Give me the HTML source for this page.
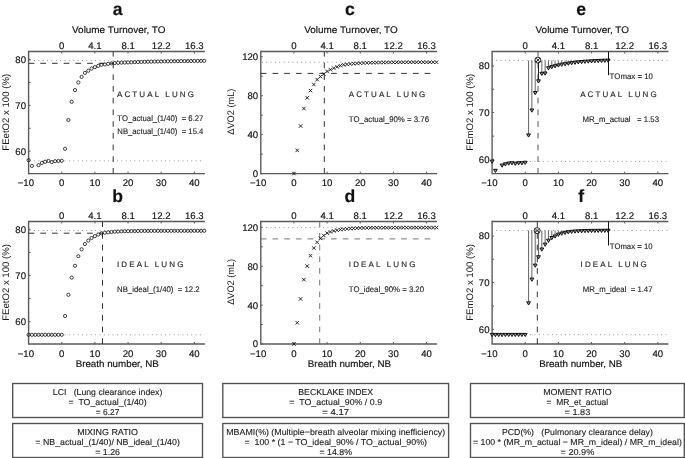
<!DOCTYPE html>
<html><head><meta charset="utf-8"><style>
html,body{margin:0;padding:0;background:#fff;width:685px;height:458px;overflow:hidden}
svg{display:block;will-change:transform}
text{font-family:"Liberation Sans", sans-serif;stroke:#111;stroke-width:0.16px;text-rendering:geometricPrecision}
text.s{stroke-width:0.12px;fill:#222;stroke:#222}
text.yl{stroke-width:0.02px;fill:#1a1a1a;stroke:#1a1a1a}
</style></head><body>
<svg width="685" height="458" viewBox="0 0 685 458" font-family='"Liberation Sans", sans-serif' fill="#111">
<rect width="685" height="458" fill="#fff"/>
<line x1="28.6" y1="51.5" x2="204.89" y2="51.5" stroke="#5a5a5a" stroke-width="1.4"/>
<line x1="28.6" y1="50.8" x2="28.6" y2="174.35" stroke="#5a5a5a" stroke-width="1.4"/>
<line x1="28.6" y1="173.65" x2="204.89" y2="173.65" stroke="#5a5a5a" stroke-width="1.4"/>
<line x1="61.75" y1="51.5" x2="61.75" y2="53.5" stroke="#5a5a5a" stroke-width="1"/>
<text x="61.75" y="48.6" font-size="9.6" text-anchor="middle">0</text>
<line x1="94.9" y1="51.5" x2="94.9" y2="53.5" stroke="#5a5a5a" stroke-width="1"/>
<text x="94.9" y="48.6" font-size="9.6" text-anchor="middle">4.1</text>
<line x1="128.05" y1="51.5" x2="128.05" y2="53.5" stroke="#5a5a5a" stroke-width="1"/>
<text x="128.05" y="48.6" font-size="9.6" text-anchor="middle">8.1</text>
<line x1="161.2" y1="51.5" x2="161.2" y2="53.5" stroke="#5a5a5a" stroke-width="1"/>
<text x="161.2" y="48.6" font-size="9.6" text-anchor="middle">12.2</text>
<line x1="194.35" y1="51.5" x2="194.35" y2="53.5" stroke="#5a5a5a" stroke-width="1"/>
<text x="194.35" y="48.6" font-size="9.6" text-anchor="middle">16.3</text>
<text x="25.9" y="186.25" font-size="9.6" text-anchor="middle">−10</text>
<line x1="61.75" y1="173.65" x2="61.75" y2="171.65" stroke="#5a5a5a" stroke-width="1"/>
<text x="61.75" y="186.25" font-size="9.6" text-anchor="middle">0</text>
<line x1="94.9" y1="173.65" x2="94.9" y2="171.65" stroke="#5a5a5a" stroke-width="1"/>
<text x="94.9" y="186.25" font-size="9.6" text-anchor="middle">10</text>
<line x1="128.05" y1="173.65" x2="128.05" y2="171.65" stroke="#5a5a5a" stroke-width="1"/>
<text x="128.05" y="186.25" font-size="9.6" text-anchor="middle">20</text>
<line x1="161.2" y1="173.65" x2="161.2" y2="171.65" stroke="#5a5a5a" stroke-width="1"/>
<text x="161.2" y="186.25" font-size="9.6" text-anchor="middle">30</text>
<line x1="194.35" y1="173.65" x2="194.35" y2="171.65" stroke="#5a5a5a" stroke-width="1"/>
<text x="194.35" y="186.25" font-size="9.6" text-anchor="middle">40</text>
<line x1="28.6" y1="59.5" x2="30.6" y2="59.5" stroke="#5a5a5a" stroke-width="1"/>
<text x="26" y="62.95" font-size="9.6" text-anchor="end">80</text>
<line x1="28.6" y1="82.4" x2="30.6" y2="82.4" stroke="#5a5a5a" stroke-width="1"/>
<line x1="28.6" y1="105.4" x2="30.6" y2="105.4" stroke="#5a5a5a" stroke-width="1"/>
<text x="26" y="108.85" font-size="9.6" text-anchor="end">70</text>
<line x1="28.6" y1="128.3" x2="30.6" y2="128.3" stroke="#5a5a5a" stroke-width="1"/>
<line x1="28.6" y1="151.2" x2="30.6" y2="151.2" stroke="#5a5a5a" stroke-width="1"/>
<text x="26" y="154.65" font-size="9.6" text-anchor="end">60</text>
<text x="0" y="0" font-size="9.5" class="yl" text-anchor="middle" textLength="76.8" lengthAdjust="spacingAndGlyphs" transform="translate(8.5,112.28) rotate(-90)">FEetO2 x 100 (%)</text>
<text x="118.75" y="32.7" font-size="9.6" text-anchor="middle" textLength="93.4" lengthAdjust="spacingAndGlyphs">Volume Turnover, TO</text>
<text x="117.65" y="15" font-size="17.6" text-anchor="middle" font-weight="bold">a</text>
<line x1="28.6" y1="221.5" x2="204.89" y2="221.5" stroke="#5a5a5a" stroke-width="1.4"/>
<line x1="28.6" y1="220.8" x2="28.6" y2="344.7" stroke="#5a5a5a" stroke-width="1.4"/>
<line x1="28.6" y1="344" x2="204.89" y2="344" stroke="#5a5a5a" stroke-width="1.4"/>
<line x1="61.75" y1="221.5" x2="61.75" y2="223.5" stroke="#5a5a5a" stroke-width="1"/>
<text x="61.75" y="218.6" font-size="9.6" text-anchor="middle">0</text>
<line x1="94.9" y1="221.5" x2="94.9" y2="223.5" stroke="#5a5a5a" stroke-width="1"/>
<text x="94.9" y="218.6" font-size="9.6" text-anchor="middle">4.1</text>
<line x1="128.05" y1="221.5" x2="128.05" y2="223.5" stroke="#5a5a5a" stroke-width="1"/>
<text x="128.05" y="218.6" font-size="9.6" text-anchor="middle">8.1</text>
<line x1="161.2" y1="221.5" x2="161.2" y2="223.5" stroke="#5a5a5a" stroke-width="1"/>
<text x="161.2" y="218.6" font-size="9.6" text-anchor="middle">12.2</text>
<line x1="194.35" y1="221.5" x2="194.35" y2="223.5" stroke="#5a5a5a" stroke-width="1"/>
<text x="194.35" y="218.6" font-size="9.6" text-anchor="middle">16.3</text>
<text x="25.9" y="356.6" font-size="9.6" text-anchor="middle">−10</text>
<line x1="61.75" y1="344" x2="61.75" y2="342" stroke="#5a5a5a" stroke-width="1"/>
<text x="61.75" y="356.6" font-size="9.6" text-anchor="middle">0</text>
<line x1="94.9" y1="344" x2="94.9" y2="342" stroke="#5a5a5a" stroke-width="1"/>
<text x="94.9" y="356.6" font-size="9.6" text-anchor="middle">10</text>
<line x1="128.05" y1="344" x2="128.05" y2="342" stroke="#5a5a5a" stroke-width="1"/>
<text x="128.05" y="356.6" font-size="9.6" text-anchor="middle">20</text>
<line x1="161.2" y1="344" x2="161.2" y2="342" stroke="#5a5a5a" stroke-width="1"/>
<text x="161.2" y="356.6" font-size="9.6" text-anchor="middle">30</text>
<line x1="194.35" y1="344" x2="194.35" y2="342" stroke="#5a5a5a" stroke-width="1"/>
<text x="194.35" y="356.6" font-size="9.6" text-anchor="middle">40</text>
<line x1="28.6" y1="229.4" x2="30.6" y2="229.4" stroke="#5a5a5a" stroke-width="1"/>
<text x="26" y="232.85" font-size="9.6" text-anchor="end">80</text>
<line x1="28.6" y1="252.4" x2="30.6" y2="252.4" stroke="#5a5a5a" stroke-width="1"/>
<line x1="28.6" y1="275.5" x2="30.6" y2="275.5" stroke="#5a5a5a" stroke-width="1"/>
<text x="26" y="278.95" font-size="9.6" text-anchor="end">70</text>
<line x1="28.6" y1="298.6" x2="30.6" y2="298.6" stroke="#5a5a5a" stroke-width="1"/>
<line x1="28.6" y1="321.7" x2="30.6" y2="321.7" stroke="#5a5a5a" stroke-width="1"/>
<text x="26" y="325.15" font-size="9.6" text-anchor="end">60</text>
<text x="0" y="0" font-size="9.5" class="yl" text-anchor="middle" textLength="76.8" lengthAdjust="spacingAndGlyphs" transform="translate(8.5,282.45) rotate(-90)">FEetO2 x 100 (%)</text>
<text x="117.25" y="367.2" font-size="9.6" text-anchor="middle" textLength="83.2" lengthAdjust="spacingAndGlyphs">Breath number, NB</text>
<text x="117.65" y="202.1" font-size="17.6" text-anchor="middle" font-weight="bold">b</text>
<line x1="260.8" y1="51.5" x2="437.1" y2="51.5" stroke="#5a5a5a" stroke-width="1.4"/>
<line x1="260.8" y1="50.8" x2="260.8" y2="174.35" stroke="#5a5a5a" stroke-width="1.4"/>
<line x1="260.8" y1="173.65" x2="437.1" y2="173.65" stroke="#5a5a5a" stroke-width="1.4"/>
<line x1="293.95" y1="51.5" x2="293.95" y2="53.5" stroke="#5a5a5a" stroke-width="1"/>
<text x="293.95" y="48.6" font-size="9.6" text-anchor="middle">0</text>
<line x1="327.1" y1="51.5" x2="327.1" y2="53.5" stroke="#5a5a5a" stroke-width="1"/>
<text x="327.1" y="48.6" font-size="9.6" text-anchor="middle">4.1</text>
<line x1="360.25" y1="51.5" x2="360.25" y2="53.5" stroke="#5a5a5a" stroke-width="1"/>
<text x="360.25" y="48.6" font-size="9.6" text-anchor="middle">8.1</text>
<line x1="393.4" y1="51.5" x2="393.4" y2="53.5" stroke="#5a5a5a" stroke-width="1"/>
<text x="393.4" y="48.6" font-size="9.6" text-anchor="middle">12.2</text>
<line x1="426.55" y1="51.5" x2="426.55" y2="53.5" stroke="#5a5a5a" stroke-width="1"/>
<text x="426.55" y="48.6" font-size="9.6" text-anchor="middle">16.3</text>
<text x="258.1" y="186.25" font-size="9.6" text-anchor="middle">−10</text>
<line x1="293.95" y1="173.65" x2="293.95" y2="171.65" stroke="#5a5a5a" stroke-width="1"/>
<text x="293.95" y="186.25" font-size="9.6" text-anchor="middle">0</text>
<line x1="327.1" y1="173.65" x2="327.1" y2="171.65" stroke="#5a5a5a" stroke-width="1"/>
<text x="327.1" y="186.25" font-size="9.6" text-anchor="middle">10</text>
<line x1="360.25" y1="173.65" x2="360.25" y2="171.65" stroke="#5a5a5a" stroke-width="1"/>
<text x="360.25" y="186.25" font-size="9.6" text-anchor="middle">20</text>
<line x1="393.4" y1="173.65" x2="393.4" y2="171.65" stroke="#5a5a5a" stroke-width="1"/>
<text x="393.4" y="186.25" font-size="9.6" text-anchor="middle">30</text>
<line x1="426.55" y1="173.65" x2="426.55" y2="171.65" stroke="#5a5a5a" stroke-width="1"/>
<text x="426.55" y="186.25" font-size="9.6" text-anchor="middle">40</text>
<line x1="260.8" y1="173.65" x2="262.8" y2="173.65" stroke="#5a5a5a" stroke-width="1"/>
<text x="258.2" y="177.1" font-size="9.6" text-anchor="end">0</text>
<line x1="260.8" y1="154.17" x2="262.8" y2="154.17" stroke="#5a5a5a" stroke-width="1"/>
<line x1="260.8" y1="134.69" x2="262.8" y2="134.69" stroke="#5a5a5a" stroke-width="1"/>
<text x="258.2" y="138.14" font-size="9.6" text-anchor="end">40</text>
<line x1="260.8" y1="115.21" x2="262.8" y2="115.21" stroke="#5a5a5a" stroke-width="1"/>
<line x1="260.8" y1="95.73" x2="262.8" y2="95.73" stroke="#5a5a5a" stroke-width="1"/>
<text x="258.2" y="99.18" font-size="9.6" text-anchor="end">80</text>
<line x1="260.8" y1="76.25" x2="262.8" y2="76.25" stroke="#5a5a5a" stroke-width="1"/>
<line x1="260.8" y1="56.77" x2="262.8" y2="56.77" stroke="#5a5a5a" stroke-width="1"/>
<text x="258.2" y="60.22" font-size="9.6" text-anchor="end">120</text>
<text x="0" y="0" font-size="9.5" class="yl" text-anchor="middle" textLength="46" lengthAdjust="spacingAndGlyphs" transform="translate(234.1,111.67) rotate(-90)">ΔVO2 (mL)</text>
<text x="350.95" y="32.7" font-size="9.6" text-anchor="middle" textLength="93.4" lengthAdjust="spacingAndGlyphs">Volume Turnover, TO</text>
<text x="349.85" y="15" font-size="17.6" text-anchor="middle" font-weight="bold">c</text>
<line x1="260.8" y1="221.5" x2="437.1" y2="221.5" stroke="#5a5a5a" stroke-width="1.4"/>
<line x1="260.8" y1="220.8" x2="260.8" y2="344.7" stroke="#5a5a5a" stroke-width="1.4"/>
<line x1="260.8" y1="344" x2="437.1" y2="344" stroke="#5a5a5a" stroke-width="1.4"/>
<line x1="293.95" y1="221.5" x2="293.95" y2="223.5" stroke="#5a5a5a" stroke-width="1"/>
<text x="293.95" y="218.6" font-size="9.6" text-anchor="middle">0</text>
<line x1="327.1" y1="221.5" x2="327.1" y2="223.5" stroke="#5a5a5a" stroke-width="1"/>
<text x="327.1" y="218.6" font-size="9.6" text-anchor="middle">4.1</text>
<line x1="360.25" y1="221.5" x2="360.25" y2="223.5" stroke="#5a5a5a" stroke-width="1"/>
<text x="360.25" y="218.6" font-size="9.6" text-anchor="middle">8.1</text>
<line x1="393.4" y1="221.5" x2="393.4" y2="223.5" stroke="#5a5a5a" stroke-width="1"/>
<text x="393.4" y="218.6" font-size="9.6" text-anchor="middle">12.2</text>
<line x1="426.55" y1="221.5" x2="426.55" y2="223.5" stroke="#5a5a5a" stroke-width="1"/>
<text x="426.55" y="218.6" font-size="9.6" text-anchor="middle">16.3</text>
<text x="258.1" y="356.6" font-size="9.6" text-anchor="middle">−10</text>
<line x1="293.95" y1="344" x2="293.95" y2="342" stroke="#5a5a5a" stroke-width="1"/>
<text x="293.95" y="356.6" font-size="9.6" text-anchor="middle">0</text>
<line x1="327.1" y1="344" x2="327.1" y2="342" stroke="#5a5a5a" stroke-width="1"/>
<text x="327.1" y="356.6" font-size="9.6" text-anchor="middle">10</text>
<line x1="360.25" y1="344" x2="360.25" y2="342" stroke="#5a5a5a" stroke-width="1"/>
<text x="360.25" y="356.6" font-size="9.6" text-anchor="middle">20</text>
<line x1="393.4" y1="344" x2="393.4" y2="342" stroke="#5a5a5a" stroke-width="1"/>
<text x="393.4" y="356.6" font-size="9.6" text-anchor="middle">30</text>
<line x1="426.55" y1="344" x2="426.55" y2="342" stroke="#5a5a5a" stroke-width="1"/>
<text x="426.55" y="356.6" font-size="9.6" text-anchor="middle">40</text>
<line x1="260.8" y1="344" x2="262.8" y2="344" stroke="#5a5a5a" stroke-width="1"/>
<text x="258.2" y="347.45" font-size="9.6" text-anchor="end">0</text>
<line x1="260.8" y1="324.56" x2="262.8" y2="324.56" stroke="#5a5a5a" stroke-width="1"/>
<line x1="260.8" y1="305.12" x2="262.8" y2="305.12" stroke="#5a5a5a" stroke-width="1"/>
<text x="258.2" y="308.57" font-size="9.6" text-anchor="end">40</text>
<line x1="260.8" y1="285.68" x2="262.8" y2="285.68" stroke="#5a5a5a" stroke-width="1"/>
<line x1="260.8" y1="266.24" x2="262.8" y2="266.24" stroke="#5a5a5a" stroke-width="1"/>
<text x="258.2" y="269.69" font-size="9.6" text-anchor="end">80</text>
<line x1="260.8" y1="246.8" x2="262.8" y2="246.8" stroke="#5a5a5a" stroke-width="1"/>
<line x1="260.8" y1="227.36" x2="262.8" y2="227.36" stroke="#5a5a5a" stroke-width="1"/>
<text x="258.2" y="230.81" font-size="9.6" text-anchor="end">120</text>
<text x="0" y="0" font-size="9.5" class="yl" text-anchor="middle" textLength="46" lengthAdjust="spacingAndGlyphs" transform="translate(234.1,281.85) rotate(-90)">ΔVO2 (mL)</text>
<text x="349.45" y="367.2" font-size="9.6" text-anchor="middle" textLength="83.2" lengthAdjust="spacingAndGlyphs">Breath number, NB</text>
<text x="349.85" y="202.1" font-size="17.6" text-anchor="middle" font-weight="bold">d</text>
<line x1="492.1" y1="51.5" x2="668.4" y2="51.5" stroke="#5a5a5a" stroke-width="1.4"/>
<line x1="492.1" y1="50.8" x2="492.1" y2="174.35" stroke="#5a5a5a" stroke-width="1.4"/>
<line x1="492.1" y1="173.65" x2="668.4" y2="173.65" stroke="#5a5a5a" stroke-width="1.4"/>
<line x1="525.25" y1="51.5" x2="525.25" y2="53.5" stroke="#5a5a5a" stroke-width="1"/>
<text x="525.25" y="48.6" font-size="9.6" text-anchor="middle">0</text>
<line x1="558.4" y1="51.5" x2="558.4" y2="53.5" stroke="#5a5a5a" stroke-width="1"/>
<text x="558.4" y="48.6" font-size="9.6" text-anchor="middle">4.1</text>
<line x1="591.55" y1="51.5" x2="591.55" y2="53.5" stroke="#5a5a5a" stroke-width="1"/>
<text x="591.55" y="48.6" font-size="9.6" text-anchor="middle">8.1</text>
<line x1="624.7" y1="51.5" x2="624.7" y2="53.5" stroke="#5a5a5a" stroke-width="1"/>
<text x="624.7" y="48.6" font-size="9.6" text-anchor="middle">12.2</text>
<line x1="657.85" y1="51.5" x2="657.85" y2="53.5" stroke="#5a5a5a" stroke-width="1"/>
<text x="657.85" y="48.6" font-size="9.6" text-anchor="middle">16.3</text>
<text x="489.4" y="186.25" font-size="9.6" text-anchor="middle">−10</text>
<line x1="525.25" y1="173.65" x2="525.25" y2="171.65" stroke="#5a5a5a" stroke-width="1"/>
<text x="525.25" y="186.25" font-size="9.6" text-anchor="middle">0</text>
<line x1="558.4" y1="173.65" x2="558.4" y2="171.65" stroke="#5a5a5a" stroke-width="1"/>
<text x="558.4" y="186.25" font-size="9.6" text-anchor="middle">10</text>
<line x1="591.55" y1="173.65" x2="591.55" y2="171.65" stroke="#5a5a5a" stroke-width="1"/>
<text x="591.55" y="186.25" font-size="9.6" text-anchor="middle">20</text>
<line x1="624.7" y1="173.65" x2="624.7" y2="171.65" stroke="#5a5a5a" stroke-width="1"/>
<text x="624.7" y="186.25" font-size="9.6" text-anchor="middle">30</text>
<line x1="657.85" y1="173.65" x2="657.85" y2="171.65" stroke="#5a5a5a" stroke-width="1"/>
<text x="657.85" y="186.25" font-size="9.6" text-anchor="middle">40</text>
<line x1="492.1" y1="66" x2="494.1" y2="66" stroke="#5a5a5a" stroke-width="1"/>
<text x="489.5" y="69.45" font-size="9.6" text-anchor="end">80</text>
<line x1="492.1" y1="89.2" x2="494.1" y2="89.2" stroke="#5a5a5a" stroke-width="1"/>
<line x1="492.1" y1="112.5" x2="494.1" y2="112.5" stroke="#5a5a5a" stroke-width="1"/>
<text x="489.5" y="115.95" font-size="9.6" text-anchor="end">70</text>
<line x1="492.1" y1="136.1" x2="494.1" y2="136.1" stroke="#5a5a5a" stroke-width="1"/>
<line x1="492.1" y1="159.4" x2="494.1" y2="159.4" stroke="#5a5a5a" stroke-width="1"/>
<text x="489.5" y="162.85" font-size="9.6" text-anchor="end">60</text>
<text x="0" y="0" font-size="9.5" class="yl" text-anchor="middle" textLength="76.8" lengthAdjust="spacingAndGlyphs" transform="translate(472.8,112.28) rotate(-90)">FEmO2 x 100 (%)</text>
<text x="582.25" y="32.7" font-size="9.6" text-anchor="middle" textLength="93.4" lengthAdjust="spacingAndGlyphs">Volume Turnover, TO</text>
<text x="581.15" y="15" font-size="17.6" text-anchor="middle" font-weight="bold">e</text>
<line x1="492.1" y1="221.5" x2="668.4" y2="221.5" stroke="#5a5a5a" stroke-width="1.4"/>
<line x1="492.1" y1="220.8" x2="492.1" y2="344.7" stroke="#5a5a5a" stroke-width="1.4"/>
<line x1="492.1" y1="344" x2="668.4" y2="344" stroke="#5a5a5a" stroke-width="1.4"/>
<line x1="525.25" y1="221.5" x2="525.25" y2="223.5" stroke="#5a5a5a" stroke-width="1"/>
<text x="525.25" y="218.6" font-size="9.6" text-anchor="middle">0</text>
<line x1="558.4" y1="221.5" x2="558.4" y2="223.5" stroke="#5a5a5a" stroke-width="1"/>
<text x="558.4" y="218.6" font-size="9.6" text-anchor="middle">4.1</text>
<line x1="591.55" y1="221.5" x2="591.55" y2="223.5" stroke="#5a5a5a" stroke-width="1"/>
<text x="591.55" y="218.6" font-size="9.6" text-anchor="middle">8.1</text>
<line x1="624.7" y1="221.5" x2="624.7" y2="223.5" stroke="#5a5a5a" stroke-width="1"/>
<text x="624.7" y="218.6" font-size="9.6" text-anchor="middle">12.2</text>
<line x1="657.85" y1="221.5" x2="657.85" y2="223.5" stroke="#5a5a5a" stroke-width="1"/>
<text x="657.85" y="218.6" font-size="9.6" text-anchor="middle">16.3</text>
<text x="489.4" y="356.6" font-size="9.6" text-anchor="middle">−10</text>
<line x1="525.25" y1="344" x2="525.25" y2="342" stroke="#5a5a5a" stroke-width="1"/>
<text x="525.25" y="356.6" font-size="9.6" text-anchor="middle">0</text>
<line x1="558.4" y1="344" x2="558.4" y2="342" stroke="#5a5a5a" stroke-width="1"/>
<text x="558.4" y="356.6" font-size="9.6" text-anchor="middle">10</text>
<line x1="591.55" y1="344" x2="591.55" y2="342" stroke="#5a5a5a" stroke-width="1"/>
<text x="591.55" y="356.6" font-size="9.6" text-anchor="middle">20</text>
<line x1="624.7" y1="344" x2="624.7" y2="342" stroke="#5a5a5a" stroke-width="1"/>
<text x="624.7" y="356.6" font-size="9.6" text-anchor="middle">30</text>
<line x1="657.85" y1="344" x2="657.85" y2="342" stroke="#5a5a5a" stroke-width="1"/>
<text x="657.85" y="356.6" font-size="9.6" text-anchor="middle">40</text>
<line x1="492.1" y1="236" x2="494.1" y2="236" stroke="#5a5a5a" stroke-width="1"/>
<text x="489.5" y="239.45" font-size="9.6" text-anchor="end">80</text>
<line x1="492.1" y1="259.2" x2="494.1" y2="259.2" stroke="#5a5a5a" stroke-width="1"/>
<line x1="492.1" y1="282.5" x2="494.1" y2="282.5" stroke="#5a5a5a" stroke-width="1"/>
<text x="489.5" y="285.95" font-size="9.6" text-anchor="end">70</text>
<line x1="492.1" y1="306.1" x2="494.1" y2="306.1" stroke="#5a5a5a" stroke-width="1"/>
<line x1="492.1" y1="329.4" x2="494.1" y2="329.4" stroke="#5a5a5a" stroke-width="1"/>
<text x="489.5" y="332.85" font-size="9.6" text-anchor="end">60</text>
<text x="0" y="0" font-size="9.5" class="yl" text-anchor="middle" textLength="76.8" lengthAdjust="spacingAndGlyphs" transform="translate(472.8,282.45) rotate(-90)">FEmO2 x 100 (%)</text>
<text x="580.75" y="367.2" font-size="9.6" text-anchor="middle" textLength="83.2" lengthAdjust="spacingAndGlyphs">Breath number, NB</text>
<text x="581.15" y="202.1" font-size="17.6" text-anchor="middle" font-weight="bold">f</text>
<line x1="29.6" y1="60.5" x2="204.29" y2="60.5" stroke="#888" stroke-width="0.9" stroke-dasharray="0.9 3.47"/>
<line x1="29.6" y1="160.8" x2="204.29" y2="160.8" stroke="#888" stroke-width="0.9" stroke-dasharray="0.9 3.47"/>
<line x1="28.6" y1="63.3" x2="113.2" y2="63.3" stroke="#333" stroke-width="1" stroke-dasharray="5.7 6"/>
<line x1="113.2" y1="173.65" x2="113.2" y2="51.5" stroke="#333" stroke-width="1" stroke-dasharray="5.7 6"/>
<circle cx="28.6" cy="160.2" r="1.6" fill="none" stroke="#111" stroke-width="0.8"/>
<circle cx="31.92" cy="165.9" r="1.6" fill="none" stroke="#111" stroke-width="0.8"/>
<circle cx="38.55" cy="165.2" r="1.6" fill="none" stroke="#111" stroke-width="0.8"/>
<circle cx="41.86" cy="162.9" r="1.6" fill="none" stroke="#111" stroke-width="0.8"/>
<circle cx="45.17" cy="161.8" r="1.6" fill="none" stroke="#111" stroke-width="0.8"/>
<circle cx="48.49" cy="160.9" r="1.6" fill="none" stroke="#111" stroke-width="0.8"/>
<circle cx="51.8" cy="162.1" r="1.6" fill="none" stroke="#111" stroke-width="0.8"/>
<circle cx="55.12" cy="161.2" r="1.6" fill="none" stroke="#111" stroke-width="0.8"/>
<circle cx="58.44" cy="161" r="1.6" fill="none" stroke="#111" stroke-width="0.8"/>
<circle cx="61.75" cy="160.8" r="1.6" fill="none" stroke="#111" stroke-width="0.8"/>
<circle cx="65.06" cy="148.8" r="1.6" fill="none" stroke="#111" stroke-width="0.8"/>
<circle cx="68.38" cy="120" r="1.6" fill="none" stroke="#111" stroke-width="0.8"/>
<circle cx="71.69" cy="101.8" r="1.6" fill="none" stroke="#111" stroke-width="0.8"/>
<circle cx="75.01" cy="90.1" r="1.6" fill="none" stroke="#111" stroke-width="0.8"/>
<circle cx="78.33" cy="82.4" r="1.6" fill="none" stroke="#111" stroke-width="0.8"/>
<circle cx="81.64" cy="76.9" r="1.6" fill="none" stroke="#111" stroke-width="0.8"/>
<circle cx="84.95" cy="72.9" r="1.6" fill="none" stroke="#111" stroke-width="0.8"/>
<circle cx="88.27" cy="70.7" r="1.6" fill="none" stroke="#111" stroke-width="0.8"/>
<circle cx="91.59" cy="68.5" r="1.6" fill="none" stroke="#111" stroke-width="0.8"/>
<circle cx="94.9" cy="67.1" r="1.6" fill="none" stroke="#111" stroke-width="0.8"/>
<circle cx="98.22" cy="65.9" r="1.6" fill="none" stroke="#111" stroke-width="0.8"/>
<circle cx="101.53" cy="64.8" r="1.6" fill="none" stroke="#111" stroke-width="0.8"/>
<circle cx="104.84" cy="64.4" r="1.6" fill="none" stroke="#111" stroke-width="0.8"/>
<circle cx="108.16" cy="63.8" r="1.6" fill="none" stroke="#111" stroke-width="0.8"/>
<circle cx="111.47" cy="63.3" r="1.6" fill="none" stroke="#111" stroke-width="0.8"/>
<circle cx="114.79" cy="63.01" r="1.6" fill="none" stroke="#111" stroke-width="0.8"/>
<circle cx="118.1" cy="62.84" r="1.6" fill="none" stroke="#111" stroke-width="0.8"/>
<circle cx="121.42" cy="62.68" r="1.6" fill="none" stroke="#111" stroke-width="0.8"/>
<circle cx="124.74" cy="62.53" r="1.6" fill="none" stroke="#111" stroke-width="0.8"/>
<circle cx="128.05" cy="62.39" r="1.6" fill="none" stroke="#111" stroke-width="0.8"/>
<circle cx="131.37" cy="62.26" r="1.6" fill="none" stroke="#111" stroke-width="0.8"/>
<circle cx="134.68" cy="62.14" r="1.6" fill="none" stroke="#111" stroke-width="0.8"/>
<circle cx="138" cy="62.02" r="1.6" fill="none" stroke="#111" stroke-width="0.8"/>
<circle cx="141.31" cy="61.92" r="1.6" fill="none" stroke="#111" stroke-width="0.8"/>
<circle cx="144.62" cy="61.82" r="1.6" fill="none" stroke="#111" stroke-width="0.8"/>
<circle cx="147.94" cy="61.73" r="1.6" fill="none" stroke="#111" stroke-width="0.8"/>
<circle cx="151.25" cy="61.65" r="1.6" fill="none" stroke="#111" stroke-width="0.8"/>
<circle cx="154.57" cy="61.57" r="1.6" fill="none" stroke="#111" stroke-width="0.8"/>
<circle cx="157.88" cy="61.49" r="1.6" fill="none" stroke="#111" stroke-width="0.8"/>
<circle cx="161.2" cy="61.42" r="1.6" fill="none" stroke="#111" stroke-width="0.8"/>
<circle cx="164.51" cy="61.36" r="1.6" fill="none" stroke="#111" stroke-width="0.8"/>
<circle cx="167.83" cy="61.3" r="1.6" fill="none" stroke="#111" stroke-width="0.8"/>
<circle cx="171.14" cy="61.25" r="1.6" fill="none" stroke="#111" stroke-width="0.8"/>
<circle cx="174.46" cy="61.19" r="1.6" fill="none" stroke="#111" stroke-width="0.8"/>
<circle cx="177.78" cy="61.15" r="1.6" fill="none" stroke="#111" stroke-width="0.8"/>
<circle cx="181.09" cy="61.1" r="1.6" fill="none" stroke="#111" stroke-width="0.8"/>
<circle cx="184.41" cy="61.06" r="1.6" fill="none" stroke="#111" stroke-width="0.8"/>
<circle cx="187.72" cy="61.02" r="1.6" fill="none" stroke="#111" stroke-width="0.8"/>
<circle cx="191.03" cy="60.99" r="1.6" fill="none" stroke="#111" stroke-width="0.8"/>
<circle cx="194.35" cy="60.95" r="1.6" fill="none" stroke="#111" stroke-width="0.8"/>
<circle cx="197.66" cy="60.92" r="1.6" fill="none" stroke="#111" stroke-width="0.8"/>
<circle cx="200.98" cy="60.89" r="1.6" fill="none" stroke="#111" stroke-width="0.8"/>
<circle cx="204.29" cy="60.87" r="1.6" fill="none" stroke="#111" stroke-width="0.8"/>
<text x="117" y="97" font-size="8" textLength="76.9" lengthAdjust="spacing" class="s">ACTUAL LUNG</text>
<text x="117.3" y="121.2" font-size="8.1" textLength="86.1" lengthAdjust="spacingAndGlyphs" class="s">TO_actual_(1/40)&#160; = 6.27</text>
<text x="117.3" y="133.6" font-size="8.1" textLength="86.1" lengthAdjust="spacingAndGlyphs" class="s">NB_actual_(1/40)&#160; = 15.4</text>
<line x1="29.6" y1="230.5" x2="204.29" y2="230.5" stroke="#888" stroke-width="0.9" stroke-dasharray="0.9 3.47"/>
<line x1="29.6" y1="334.8" x2="204.29" y2="334.8" stroke="#888" stroke-width="0.9" stroke-dasharray="0.9 3.47"/>
<line x1="28.6" y1="233.2" x2="102.5" y2="233.2" stroke="#333" stroke-width="1" stroke-dasharray="5.7 6"/>
<line x1="102.5" y1="344" x2="102.5" y2="221.5" stroke="#333" stroke-width="1" stroke-dasharray="5.7 6"/>
<circle cx="28.6" cy="334.8" r="1.6" fill="none" stroke="#111" stroke-width="0.8"/>
<circle cx="31.92" cy="334.8" r="1.6" fill="none" stroke="#111" stroke-width="0.8"/>
<circle cx="35.23" cy="334.8" r="1.6" fill="none" stroke="#111" stroke-width="0.8"/>
<circle cx="38.55" cy="334.8" r="1.6" fill="none" stroke="#111" stroke-width="0.8"/>
<circle cx="41.86" cy="334.8" r="1.6" fill="none" stroke="#111" stroke-width="0.8"/>
<circle cx="45.17" cy="334.8" r="1.6" fill="none" stroke="#111" stroke-width="0.8"/>
<circle cx="48.49" cy="334.8" r="1.6" fill="none" stroke="#111" stroke-width="0.8"/>
<circle cx="51.8" cy="334.8" r="1.6" fill="none" stroke="#111" stroke-width="0.8"/>
<circle cx="55.12" cy="334.8" r="1.6" fill="none" stroke="#111" stroke-width="0.8"/>
<circle cx="58.44" cy="334.8" r="1.6" fill="none" stroke="#111" stroke-width="0.8"/>
<circle cx="61.75" cy="334.8" r="1.6" fill="none" stroke="#111" stroke-width="0.8"/>
<circle cx="65.06" cy="316" r="1.6" fill="none" stroke="#111" stroke-width="0.8"/>
<circle cx="68.38" cy="294.8" r="1.6" fill="none" stroke="#111" stroke-width="0.8"/>
<circle cx="71.69" cy="277.6" r="1.6" fill="none" stroke="#111" stroke-width="0.8"/>
<circle cx="75.01" cy="265.8" r="1.6" fill="none" stroke="#111" stroke-width="0.8"/>
<circle cx="78.33" cy="256.2" r="1.6" fill="none" stroke="#111" stroke-width="0.8"/>
<circle cx="81.64" cy="249.3" r="1.6" fill="none" stroke="#111" stroke-width="0.8"/>
<circle cx="84.95" cy="244.1" r="1.6" fill="none" stroke="#111" stroke-width="0.8"/>
<circle cx="88.27" cy="240.6" r="1.6" fill="none" stroke="#111" stroke-width="0.8"/>
<circle cx="91.59" cy="238" r="1.6" fill="none" stroke="#111" stroke-width="0.8"/>
<circle cx="94.9" cy="236.1" r="1.6" fill="none" stroke="#111" stroke-width="0.8"/>
<circle cx="98.22" cy="234.5" r="1.6" fill="none" stroke="#111" stroke-width="0.8"/>
<circle cx="101.53" cy="233.3" r="1.6" fill="none" stroke="#111" stroke-width="0.8"/>
<circle cx="104.84" cy="232.75" r="1.6" fill="none" stroke="#111" stroke-width="0.8"/>
<circle cx="108.16" cy="232.32" r="1.6" fill="none" stroke="#111" stroke-width="0.8"/>
<circle cx="111.47" cy="231.98" r="1.6" fill="none" stroke="#111" stroke-width="0.8"/>
<circle cx="114.79" cy="231.72" r="1.6" fill="none" stroke="#111" stroke-width="0.8"/>
<circle cx="118.1" cy="231.52" r="1.6" fill="none" stroke="#111" stroke-width="0.8"/>
<circle cx="121.42" cy="231.36" r="1.6" fill="none" stroke="#111" stroke-width="0.8"/>
<circle cx="124.74" cy="231.23" r="1.6" fill="none" stroke="#111" stroke-width="0.8"/>
<circle cx="128.05" cy="231.14" r="1.6" fill="none" stroke="#111" stroke-width="0.8"/>
<circle cx="131.37" cy="231.06" r="1.6" fill="none" stroke="#111" stroke-width="0.8"/>
<circle cx="134.68" cy="231.01" r="1.6" fill="none" stroke="#111" stroke-width="0.8"/>
<circle cx="138" cy="230.96" r="1.6" fill="none" stroke="#111" stroke-width="0.8"/>
<circle cx="141.31" cy="230.92" r="1.6" fill="none" stroke="#111" stroke-width="0.8"/>
<circle cx="144.62" cy="230.9" r="1.6" fill="none" stroke="#111" stroke-width="0.8"/>
<circle cx="147.94" cy="230.88" r="1.6" fill="none" stroke="#111" stroke-width="0.8"/>
<circle cx="151.25" cy="230.86" r="1.6" fill="none" stroke="#111" stroke-width="0.8"/>
<circle cx="154.57" cy="230.85" r="1.6" fill="none" stroke="#111" stroke-width="0.8"/>
<circle cx="157.88" cy="230.84" r="1.6" fill="none" stroke="#111" stroke-width="0.8"/>
<circle cx="161.2" cy="230.83" r="1.6" fill="none" stroke="#111" stroke-width="0.8"/>
<circle cx="164.51" cy="230.82" r="1.6" fill="none" stroke="#111" stroke-width="0.8"/>
<circle cx="167.83" cy="230.82" r="1.6" fill="none" stroke="#111" stroke-width="0.8"/>
<circle cx="171.14" cy="230.81" r="1.6" fill="none" stroke="#111" stroke-width="0.8"/>
<circle cx="174.46" cy="230.81" r="1.6" fill="none" stroke="#111" stroke-width="0.8"/>
<circle cx="177.78" cy="230.81" r="1.6" fill="none" stroke="#111" stroke-width="0.8"/>
<circle cx="181.09" cy="230.81" r="1.6" fill="none" stroke="#111" stroke-width="0.8"/>
<circle cx="184.41" cy="230.8" r="1.6" fill="none" stroke="#111" stroke-width="0.8"/>
<circle cx="187.72" cy="230.8" r="1.6" fill="none" stroke="#111" stroke-width="0.8"/>
<circle cx="191.03" cy="230.8" r="1.6" fill="none" stroke="#111" stroke-width="0.8"/>
<circle cx="194.35" cy="230.8" r="1.6" fill="none" stroke="#111" stroke-width="0.8"/>
<circle cx="197.66" cy="230.8" r="1.6" fill="none" stroke="#111" stroke-width="0.8"/>
<circle cx="200.98" cy="230.8" r="1.6" fill="none" stroke="#111" stroke-width="0.8"/>
<circle cx="204.29" cy="230.8" r="1.6" fill="none" stroke="#111" stroke-width="0.8"/>
<text x="117" y="267.3" font-size="8" textLength="66.4" lengthAdjust="spacing" class="s">IDEAL LUNG</text>
<text x="117" y="292" font-size="8.1" textLength="82.7" lengthAdjust="spacingAndGlyphs" class="s">NB_ideal_(1/40)&#160; = 12.2</text>
<line x1="261.8" y1="62.2" x2="436.5" y2="62.2" stroke="#888" stroke-width="0.9" stroke-dasharray="0.9 3.47"/>
<line x1="260.8" y1="73.4" x2="432.5" y2="73.4" stroke="#333" stroke-width="1" stroke-dasharray="5.7 6"/>
<line x1="324.3" y1="173.65" x2="324.3" y2="51.5" stroke="#333" stroke-width="1" stroke-dasharray="5.7 6"/>
<path d="M292.2 171.85L295.7 175.35M292.2 175.35L295.7 171.85" stroke="#111" stroke-width="0.9" fill="none"/>
<path d="M295.51 148.65L299.01 152.15M295.51 152.15L299.01 148.65" stroke="#111" stroke-width="0.9" fill="none"/>
<path d="M298.83 124.25L302.33 127.75M298.83 127.75L302.33 124.25" stroke="#111" stroke-width="0.9" fill="none"/>
<path d="M302.14 106.75L305.64 110.25M302.14 110.25L305.64 106.75" stroke="#111" stroke-width="0.9" fill="none"/>
<path d="M305.46 96.05L308.96 99.55M305.46 99.55L308.96 96.05" stroke="#111" stroke-width="0.9" fill="none"/>
<path d="M308.78 88.85L312.28 92.35M308.78 92.35L312.28 88.85" stroke="#111" stroke-width="0.9" fill="none"/>
<path d="M312.09 82.75L315.59 86.25M312.09 86.25L315.59 82.75" stroke="#111" stroke-width="0.9" fill="none"/>
<path d="M315.41 77.85L318.91 81.35M315.41 81.35L318.91 77.85" stroke="#111" stroke-width="0.9" fill="none"/>
<path d="M318.72 74.85L322.22 78.35M318.72 78.35L322.22 74.85" stroke="#111" stroke-width="0.9" fill="none"/>
<path d="M322.04 72.25L325.54 75.75M322.04 75.75L325.54 72.25" stroke="#111" stroke-width="0.9" fill="none"/>
<path d="M325.35 69.65L328.85 73.15M325.35 73.15L328.85 69.65" stroke="#111" stroke-width="0.9" fill="none"/>
<path d="M328.67 67.95L332.17 71.45M328.67 71.45L332.17 67.95" stroke="#111" stroke-width="0.9" fill="none"/>
<path d="M331.98 66.35L335.48 69.85M331.98 69.85L335.48 66.35" stroke="#111" stroke-width="0.9" fill="none"/>
<path d="M335.3 65.05L338.8 68.55M335.3 68.55L338.8 65.05" stroke="#111" stroke-width="0.9" fill="none"/>
<path d="M338.61 63.95L342.11 67.45M338.61 67.45L342.11 63.95" stroke="#111" stroke-width="0.9" fill="none"/>
<path d="M341.93 63.05L345.43 66.55M341.93 66.55L345.43 63.05" stroke="#111" stroke-width="0.9" fill="none"/>
<path d="M345.24 62.58L348.74 66.08M345.24 66.08L348.74 62.58" stroke="#111" stroke-width="0.9" fill="none"/>
<path d="M348.56 62.19L352.06 65.69M348.56 65.69L352.06 62.19" stroke="#111" stroke-width="0.9" fill="none"/>
<path d="M351.87 61.88L355.37 65.38M351.87 65.38L355.37 61.88" stroke="#111" stroke-width="0.9" fill="none"/>
<path d="M355.19 61.62L358.69 65.12M355.19 65.12L358.69 61.62" stroke="#111" stroke-width="0.9" fill="none"/>
<path d="M358.5 61.41L362 64.91M358.5 64.91L362 61.41" stroke="#111" stroke-width="0.9" fill="none"/>
<path d="M361.81 61.23L365.31 64.73M361.81 64.73L365.31 61.23" stroke="#111" stroke-width="0.9" fill="none"/>
<path d="M365.13 61.09L368.63 64.59M365.13 64.59L368.63 61.09" stroke="#111" stroke-width="0.9" fill="none"/>
<path d="M368.44 60.97L371.94 64.47M368.44 64.47L371.94 60.97" stroke="#111" stroke-width="0.9" fill="none"/>
<path d="M371.76 60.88L375.26 64.38M371.76 64.38L375.26 60.88" stroke="#111" stroke-width="0.9" fill="none"/>
<path d="M375.07 60.8L378.57 64.3M375.07 64.3L378.57 60.8" stroke="#111" stroke-width="0.9" fill="none"/>
<path d="M378.39 60.74L381.89 64.24M378.39 64.24L381.89 60.74" stroke="#111" stroke-width="0.9" fill="none"/>
<path d="M381.71 60.69L385.21 64.19M381.71 64.19L385.21 60.69" stroke="#111" stroke-width="0.9" fill="none"/>
<path d="M385.02 60.64L388.52 64.14M385.02 64.14L388.52 60.64" stroke="#111" stroke-width="0.9" fill="none"/>
<path d="M388.34 60.61L391.84 64.11M388.34 64.11L391.84 60.61" stroke="#111" stroke-width="0.9" fill="none"/>
<path d="M391.65 60.58L395.15 64.08M391.65 64.08L395.15 60.58" stroke="#111" stroke-width="0.9" fill="none"/>
<path d="M394.97 60.56L398.47 64.06M394.97 64.06L398.47 60.56" stroke="#111" stroke-width="0.9" fill="none"/>
<path d="M398.28 60.54L401.78 64.04M398.28 64.04L401.78 60.54" stroke="#111" stroke-width="0.9" fill="none"/>
<path d="M401.6 60.52L405.1 64.02M401.6 64.02L405.1 60.52" stroke="#111" stroke-width="0.9" fill="none"/>
<path d="M404.91 60.51L408.41 64.01M404.91 64.01L408.41 60.51" stroke="#111" stroke-width="0.9" fill="none"/>
<path d="M408.23 60.5L411.73 64M408.23 64L411.73 60.5" stroke="#111" stroke-width="0.9" fill="none"/>
<path d="M411.54 60.49L415.04 63.99M411.54 63.99L415.04 60.49" stroke="#111" stroke-width="0.9" fill="none"/>
<path d="M414.86 60.48L418.36 63.98M414.86 63.98L418.36 60.48" stroke="#111" stroke-width="0.9" fill="none"/>
<path d="M418.17 60.48L421.67 63.98M418.17 63.98L421.67 60.48" stroke="#111" stroke-width="0.9" fill="none"/>
<path d="M421.49 60.47L424.99 63.97M421.49 63.97L424.99 60.47" stroke="#111" stroke-width="0.9" fill="none"/>
<path d="M424.8 60.47L428.3 63.97M424.8 63.97L428.3 60.47" stroke="#111" stroke-width="0.9" fill="none"/>
<path d="M428.12 60.46L431.62 63.96M428.12 63.96L431.62 60.46" stroke="#111" stroke-width="0.9" fill="none"/>
<path d="M431.43 60.46L434.93 63.96M431.43 63.96L434.93 60.46" stroke="#111" stroke-width="0.9" fill="none"/>
<path d="M434.75 60.46L438.25 63.96M434.75 63.96L438.25 60.46" stroke="#111" stroke-width="0.9" fill="none"/>
<text x="348.8" y="97" font-size="8" textLength="76.5" lengthAdjust="spacing" class="s">ACTUAL LUNG</text>
<text x="348.8" y="121.5" font-size="8.1" textLength="80.2" lengthAdjust="spacingAndGlyphs" class="s">TO_actual_90% = 3.76</text>
<line x1="261.8" y1="227.6" x2="436.5" y2="227.6" stroke="#888" stroke-width="0.9" stroke-dasharray="0.9 3.47"/>
<line x1="260.8" y1="238.9" x2="432.5" y2="238.9" stroke="#777" stroke-width="1" stroke-dasharray="5.7 6"/>
<line x1="319.7" y1="344" x2="319.7" y2="221.5" stroke="#777" stroke-width="1" stroke-dasharray="5.7 6"/>
<path d="M292.2 342.25L295.7 345.75M292.2 345.75L295.7 342.25" stroke="#111" stroke-width="0.9" fill="none"/>
<path d="M295.51 320.95L299.01 324.45M295.51 324.45L299.01 320.95" stroke="#111" stroke-width="0.9" fill="none"/>
<path d="M298.83 297.15L302.33 300.65M298.83 300.65L302.33 297.15" stroke="#111" stroke-width="0.9" fill="none"/>
<path d="M302.14 277.85L305.64 281.35M302.14 281.35L305.64 277.85" stroke="#111" stroke-width="0.9" fill="none"/>
<path d="M305.46 264.35L308.96 267.85M305.46 267.85L308.96 264.35" stroke="#111" stroke-width="0.9" fill="none"/>
<path d="M308.78 253.95L312.28 257.45M308.78 257.45L312.28 253.95" stroke="#111" stroke-width="0.9" fill="none"/>
<path d="M312.09 246.25L315.59 249.75M312.09 249.75L315.59 246.25" stroke="#111" stroke-width="0.9" fill="none"/>
<path d="M315.41 240.55L318.91 244.05M315.41 244.05L318.91 240.55" stroke="#111" stroke-width="0.9" fill="none"/>
<path d="M318.72 236.55L322.22 240.05M318.72 240.05L322.22 236.55" stroke="#111" stroke-width="0.9" fill="none"/>
<path d="M322.04 233.75L325.54 237.25M322.04 237.25L325.54 233.75" stroke="#111" stroke-width="0.9" fill="none"/>
<path d="M325.35 231.35L328.85 234.85M325.35 234.85L328.85 231.35" stroke="#111" stroke-width="0.9" fill="none"/>
<path d="M328.67 230.13L332.17 233.63M328.67 233.63L332.17 230.13" stroke="#111" stroke-width="0.9" fill="none"/>
<path d="M331.98 229.19L335.48 232.69M331.98 232.69L335.48 229.19" stroke="#111" stroke-width="0.9" fill="none"/>
<path d="M335.3 228.45L338.8 231.95M335.3 231.95L338.8 228.45" stroke="#111" stroke-width="0.9" fill="none"/>
<path d="M338.61 227.87L342.11 231.37M338.61 231.37L342.11 227.87" stroke="#111" stroke-width="0.9" fill="none"/>
<path d="M341.93 227.43L345.43 230.93M341.93 230.93L345.43 227.43" stroke="#111" stroke-width="0.9" fill="none"/>
<path d="M345.24 227.08L348.74 230.58M345.24 230.58L348.74 227.08" stroke="#111" stroke-width="0.9" fill="none"/>
<path d="M348.56 226.81L352.06 230.31M348.56 230.31L352.06 226.81" stroke="#111" stroke-width="0.9" fill="none"/>
<path d="M351.87 226.59L355.37 230.09M351.87 230.09L355.37 226.59" stroke="#111" stroke-width="0.9" fill="none"/>
<path d="M355.19 226.43L358.69 229.93M355.19 229.93L358.69 226.43" stroke="#111" stroke-width="0.9" fill="none"/>
<path d="M358.5 226.3L362 229.8M358.5 229.8L362 226.3" stroke="#111" stroke-width="0.9" fill="none"/>
<path d="M361.81 226.2L365.31 229.7M361.81 229.7L365.31 226.2" stroke="#111" stroke-width="0.9" fill="none"/>
<path d="M365.13 226.12L368.63 229.62M365.13 229.62L368.63 226.12" stroke="#111" stroke-width="0.9" fill="none"/>
<path d="M368.44 226.06L371.94 229.56M368.44 229.56L371.94 226.06" stroke="#111" stroke-width="0.9" fill="none"/>
<path d="M371.76 226.02L375.26 229.52M371.76 229.52L375.26 226.02" stroke="#111" stroke-width="0.9" fill="none"/>
<path d="M375.07 225.98L378.57 229.48M375.07 229.48L378.57 225.98" stroke="#111" stroke-width="0.9" fill="none"/>
<path d="M378.39 225.95L381.89 229.45M378.39 229.45L381.89 225.95" stroke="#111" stroke-width="0.9" fill="none"/>
<path d="M381.71 225.93L385.21 229.43M381.71 229.43L385.21 225.93" stroke="#111" stroke-width="0.9" fill="none"/>
<path d="M385.02 225.91L388.52 229.41M385.02 229.41L388.52 225.91" stroke="#111" stroke-width="0.9" fill="none"/>
<path d="M388.34 225.9L391.84 229.4M388.34 229.4L391.84 225.9" stroke="#111" stroke-width="0.9" fill="none"/>
<path d="M391.65 225.89L395.15 229.39M391.65 229.39L395.15 225.89" stroke="#111" stroke-width="0.9" fill="none"/>
<path d="M394.97 225.88L398.47 229.38M394.97 229.38L398.47 225.88" stroke="#111" stroke-width="0.9" fill="none"/>
<path d="M398.28 225.87L401.78 229.37M398.28 229.37L401.78 225.87" stroke="#111" stroke-width="0.9" fill="none"/>
<path d="M401.6 225.87L405.1 229.37M401.6 229.37L405.1 225.87" stroke="#111" stroke-width="0.9" fill="none"/>
<path d="M404.91 225.86L408.41 229.36M404.91 229.36L408.41 225.86" stroke="#111" stroke-width="0.9" fill="none"/>
<path d="M408.23 225.86L411.73 229.36M408.23 229.36L411.73 225.86" stroke="#111" stroke-width="0.9" fill="none"/>
<path d="M411.54 225.86L415.04 229.36M411.54 229.36L415.04 225.86" stroke="#111" stroke-width="0.9" fill="none"/>
<path d="M414.86 225.86L418.36 229.36M414.86 229.36L418.36 225.86" stroke="#111" stroke-width="0.9" fill="none"/>
<path d="M418.17 225.86L421.67 229.36M418.17 229.36L421.67 225.86" stroke="#111" stroke-width="0.9" fill="none"/>
<path d="M421.49 225.85L424.99 229.35M421.49 229.35L424.99 225.85" stroke="#111" stroke-width="0.9" fill="none"/>
<path d="M424.8 225.85L428.3 229.35M424.8 229.35L428.3 225.85" stroke="#111" stroke-width="0.9" fill="none"/>
<path d="M428.12 225.85L431.62 229.35M428.12 229.35L431.62 225.85" stroke="#111" stroke-width="0.9" fill="none"/>
<path d="M431.43 225.85L434.93 229.35M431.43 229.35L434.93 225.85" stroke="#111" stroke-width="0.9" fill="none"/>
<path d="M434.75 225.85L438.25 229.35M434.75 229.35L438.25 225.85" stroke="#111" stroke-width="0.9" fill="none"/>
<text x="348.8" y="267.3" font-size="8" textLength="66.6" lengthAdjust="spacing" class="s">IDEAL LUNG</text>
<text x="348.8" y="291.8" font-size="8.1" textLength="75.2" lengthAdjust="spacingAndGlyphs" class="s">TO_ideal_90% = 3.20</text>
<line x1="496.1" y1="60.4" x2="667.8" y2="60.4" stroke="#888" stroke-width="0.9" stroke-dasharray="0.9 3.47"/>
<line x1="530.1" y1="161.4" x2="667.8" y2="161.4" stroke="#888" stroke-width="0.9" stroke-dasharray="0.9 3.47"/>
<line x1="538" y1="173.65" x2="538" y2="51.5" stroke="#555" stroke-width="1" stroke-dasharray="5.7 6"/>
<path d="M490.2 160.1L494 160.1L492.1 163.3Z" stroke="#000" stroke-width="0.9" fill="#999"/>
<path d="M493.52 169.3L497.31 169.3L495.42 172.5Z" stroke="#000" stroke-width="0.9" fill="#999"/>
<path d="M500.15 164L503.94 164L502.05 167.2Z" stroke="#000" stroke-width="0.9" fill="#999"/>
<path d="M503.46 162.8L507.26 162.8L505.36 166Z" stroke="#000" stroke-width="0.9" fill="#999"/>
<path d="M506.78 162L510.57 162L508.68 165.2Z" stroke="#000" stroke-width="0.9" fill="#999"/>
<path d="M510.09 161.7L513.89 161.7L511.99 164.9Z" stroke="#000" stroke-width="0.9" fill="#999"/>
<path d="M513.41 162.2L517.21 162.2L515.31 165.4Z" stroke="#000" stroke-width="0.9" fill="#999"/>
<path d="M516.72 161.7L520.52 161.7L518.62 164.9Z" stroke="#000" stroke-width="0.9" fill="#999"/>
<path d="M520.04 161.7L523.84 161.7L521.94 164.9Z" stroke="#000" stroke-width="0.9" fill="#999"/>
<path d="M523.35 161.2L527.15 161.2L525.25 164.4Z" stroke="#000" stroke-width="0.9" fill="#999"/>
<line x1="528.57" y1="60.4" x2="528.57" y2="134.2" stroke="#6a6a6a" stroke-width="1.05"/>
<line x1="531.88" y1="60.4" x2="531.88" y2="109.3" stroke="#6a6a6a" stroke-width="1.05"/>
<line x1="535.2" y1="60.4" x2="535.2" y2="91.8" stroke="#6a6a6a" stroke-width="1.05"/>
<line x1="541.83" y1="60.4" x2="541.83" y2="72.6" stroke="#6a6a6a" stroke-width="1.05"/>
<line x1="545.14" y1="60.4" x2="545.14" y2="72.3" stroke="#6a6a6a" stroke-width="1.05"/>
<line x1="548.46" y1="60.4" x2="548.46" y2="67" stroke="#6a6a6a" stroke-width="1.05"/>
<line x1="551.77" y1="60.4" x2="551.77" y2="65.9" stroke="#6a6a6a" stroke-width="1.05"/>
<line x1="555.09" y1="60.4" x2="555.09" y2="65" stroke="#6a6a6a" stroke-width="1.05"/>
<line x1="558.4" y1="60.4" x2="558.4" y2="64.2" stroke="#6a6a6a" stroke-width="1.05"/>
<line x1="561.72" y1="60.4" x2="561.72" y2="63.5" stroke="#6a6a6a" stroke-width="1.05"/>
<line x1="565.03" y1="60.4" x2="565.03" y2="63" stroke="#6a6a6a" stroke-width="1.05"/>
<line x1="568.35" y1="60.4" x2="568.35" y2="62.4" stroke="#6a6a6a" stroke-width="1.05"/>
<line x1="571.66" y1="60.4" x2="571.66" y2="61.9" stroke="#6a6a6a" stroke-width="1.05"/>
<line x1="574.98" y1="60.4" x2="574.98" y2="61.5" stroke="#6a6a6a" stroke-width="1.05"/>
<line x1="578.29" y1="60.4" x2="578.29" y2="61.1" stroke="#6a6a6a" stroke-width="1.05"/>
<line x1="581.61" y1="60.4" x2="581.61" y2="60.8" stroke="#6a6a6a" stroke-width="1.05"/>
<line x1="584.92" y1="60.4" x2="584.92" y2="60.5" stroke="#6a6a6a" stroke-width="1.05"/>
<line x1="588.24" y1="60.4" x2="588.24" y2="60.3" stroke="#6a6a6a" stroke-width="1.05"/>
<line x1="591.55" y1="60.4" x2="591.55" y2="60.1" stroke="#6a6a6a" stroke-width="1.05"/>
<line x1="594.87" y1="60.4" x2="594.87" y2="59.9" stroke="#6a6a6a" stroke-width="1.05"/>
<line x1="598.18" y1="60.4" x2="598.18" y2="59.8" stroke="#6a6a6a" stroke-width="1.05"/>
<line x1="601.5" y1="60.4" x2="601.5" y2="59.6" stroke="#6a6a6a" stroke-width="1.05"/>
<line x1="604.81" y1="60.4" x2="604.81" y2="59.5" stroke="#6a6a6a" stroke-width="1.05"/>
<line x1="608.12" y1="60.4" x2="608.12" y2="59.4" stroke="#6a6a6a" stroke-width="1.05"/>
<path d="M526.67 133.9L530.47 133.9L528.57 137.1Z" stroke="#000" stroke-width="0.9" fill="#999"/>
<path d="M529.98 109L533.78 109L531.88 112.2Z" stroke="#000" stroke-width="0.9" fill="#999"/>
<path d="M533.3 91.5L537.1 91.5L535.2 94.7Z" stroke="#000" stroke-width="0.9" fill="#999"/>
<line x1="538.51" y1="62.4" x2="538.51" y2="80.1" stroke="#222" stroke-width="1"/>
<path d="M536.61 79.8L540.41 79.8L538.51 83Z" stroke="#000" stroke-width="0.9" fill="#999"/>
<path d="M539.93 72.3L543.73 72.3L541.83 75.5Z" stroke="#000" stroke-width="0.9" fill="#999"/>
<path d="M543.24 72L547.04 72L545.14 75.2Z" stroke="#000" stroke-width="0.9" fill="#999"/>
<path d="M546.56 66.7L550.36 66.7L548.46 69.9Z" stroke="#000" stroke-width="0.9" fill="#999"/>
<path d="M549.87 65.6L553.67 65.6L551.77 68.8Z" stroke="#000" stroke-width="0.9" fill="#999"/>
<path d="M553.19 64.7L556.99 64.7L555.09 67.9Z" stroke="#000" stroke-width="0.9" fill="#999"/>
<path d="M556.5 63.9L560.3 63.9L558.4 67.1Z" stroke="#000" stroke-width="0.9" fill="#999"/>
<path d="M559.82 63.2L563.62 63.2L561.72 66.4Z" stroke="#000" stroke-width="0.9" fill="#999"/>
<path d="M563.13 62.7L566.93 62.7L565.03 65.9Z" stroke="#000" stroke-width="0.9" fill="#999"/>
<path d="M566.45 62.1L570.25 62.1L568.35 65.3Z" stroke="#000" stroke-width="0.9" fill="#999"/>
<path d="M569.76 61.6L573.56 61.6L571.66 64.8Z" stroke="#000" stroke-width="0.9" fill="#999"/>
<path d="M573.08 61.2L576.88 61.2L574.98 64.4Z" stroke="#000" stroke-width="0.9" fill="#999"/>
<path d="M576.39 60.8L580.19 60.8L578.29 64Z" stroke="#000" stroke-width="0.9" fill="#999"/>
<path d="M579.71 60.5L583.5 60.5L581.61 63.7Z" stroke="#000" stroke-width="0.9" fill="#999"/>
<path d="M583.02 60.2L586.82 60.2L584.92 63.4Z" stroke="#000" stroke-width="0.9" fill="#999"/>
<path d="M586.34 60L590.13 60L588.24 63.2Z" stroke="#000" stroke-width="0.9" fill="#999"/>
<path d="M589.65 59.8L593.45 59.8L591.55 63Z" stroke="#000" stroke-width="0.9" fill="#999"/>
<path d="M592.97 59.6L596.76 59.6L594.87 62.8Z" stroke="#000" stroke-width="0.9" fill="#999"/>
<path d="M596.28 59.5L600.08 59.5L598.18 62.7Z" stroke="#000" stroke-width="0.9" fill="#999"/>
<path d="M599.6 59.3L603.39 59.3L601.5 62.5Z" stroke="#000" stroke-width="0.9" fill="#999"/>
<path d="M602.91 59.2L606.71 59.2L604.81 62.4Z" stroke="#000" stroke-width="0.9" fill="#999"/>
<path d="M606.23 59.1L610.02 59.1L608.12 62.3Z" stroke="#000" stroke-width="0.9" fill="#999"/>
<circle cx="537.9" cy="60.1" r="3.0" fill="none" stroke="#111" stroke-width="0.9"/>
<path d="M536 58.2L539.8 62M536 62L539.8 58.2" stroke="#111" stroke-width="0.9" fill="none"/>
<line x1="608.5" y1="51.5" x2="608.5" y2="75.2" stroke="#111" stroke-width="1"/>
<text x="609.6" y="78.6" font-size="8" textLength="43.4" lengthAdjust="spacingAndGlyphs" class="s">TOmax = 10</text>
<text x="580.2" y="97" font-size="8" textLength="76.5" lengthAdjust="spacing" class="s">ACTUAL LUNG</text>
<text x="582.4" y="121.7" font-size="8.1" textLength="76.6" lengthAdjust="spacingAndGlyphs" class="s">MR_m_actual&#160;&#160; = 1.53</text>
<line x1="496.1" y1="230.5" x2="667.8" y2="230.5" stroke="#888" stroke-width="0.9" stroke-dasharray="0.9 3.47"/>
<line x1="530.1" y1="334.7" x2="667.8" y2="334.7" stroke="#888" stroke-width="0.9" stroke-dasharray="0.9 3.47"/>
<line x1="537.3" y1="344" x2="537.3" y2="221.5" stroke="#333" stroke-width="1" stroke-dasharray="5.7 6"/>
<path d="M490.2 333.4L494 333.4L492.1 336.6Z" stroke="#000" stroke-width="0.9" fill="#999"/>
<path d="M493.52 333.4L497.31 333.4L495.42 336.6Z" stroke="#000" stroke-width="0.9" fill="#999"/>
<path d="M496.83 333.4L500.63 333.4L498.73 336.6Z" stroke="#000" stroke-width="0.9" fill="#999"/>
<path d="M500.15 333.4L503.94 333.4L502.05 336.6Z" stroke="#000" stroke-width="0.9" fill="#999"/>
<path d="M503.46 333.4L507.26 333.4L505.36 336.6Z" stroke="#000" stroke-width="0.9" fill="#999"/>
<path d="M506.78 333.4L510.57 333.4L508.68 336.6Z" stroke="#000" stroke-width="0.9" fill="#999"/>
<path d="M510.09 333.4L513.89 333.4L511.99 336.6Z" stroke="#000" stroke-width="0.9" fill="#999"/>
<path d="M513.41 333.4L517.21 333.4L515.31 336.6Z" stroke="#000" stroke-width="0.9" fill="#999"/>
<path d="M516.72 333.4L520.52 333.4L518.62 336.6Z" stroke="#000" stroke-width="0.9" fill="#999"/>
<path d="M520.04 333.4L523.84 333.4L521.94 336.6Z" stroke="#000" stroke-width="0.9" fill="#999"/>
<path d="M523.35 333.4L527.15 333.4L525.25 336.6Z" stroke="#000" stroke-width="0.9" fill="#999"/>
<line x1="528.57" y1="230.5" x2="528.57" y2="302.1" stroke="#6a6a6a" stroke-width="1.05"/>
<line x1="531.88" y1="230.5" x2="531.88" y2="278.4" stroke="#6a6a6a" stroke-width="1.05"/>
<line x1="535.2" y1="230.5" x2="535.2" y2="264.4" stroke="#6a6a6a" stroke-width="1.05"/>
<line x1="538.51" y1="230.5" x2="538.51" y2="256" stroke="#6a6a6a" stroke-width="1.05"/>
<line x1="541.83" y1="230.5" x2="541.83" y2="248.3" stroke="#6a6a6a" stroke-width="1.05"/>
<line x1="545.14" y1="230.5" x2="545.14" y2="243.4" stroke="#6a6a6a" stroke-width="1.05"/>
<line x1="548.46" y1="230.5" x2="548.46" y2="239.5" stroke="#6a6a6a" stroke-width="1.05"/>
<line x1="551.77" y1="230.5" x2="551.77" y2="236.8" stroke="#6a6a6a" stroke-width="1.05"/>
<line x1="555.09" y1="230.5" x2="555.09" y2="235.2" stroke="#6a6a6a" stroke-width="1.05"/>
<line x1="558.4" y1="230.5" x2="558.4" y2="233.5" stroke="#6a6a6a" stroke-width="1.05"/>
<line x1="561.72" y1="230.5" x2="561.72" y2="232.4" stroke="#6a6a6a" stroke-width="1.05"/>
<line x1="565.03" y1="230.5" x2="565.03" y2="231.6" stroke="#6a6a6a" stroke-width="1.05"/>
<line x1="568.35" y1="230.5" x2="568.35" y2="231" stroke="#6a6a6a" stroke-width="1.05"/>
<line x1="571.66" y1="230.5" x2="571.66" y2="230.6" stroke="#6a6a6a" stroke-width="1.05"/>
<line x1="574.98" y1="230.5" x2="574.98" y2="230.3" stroke="#6a6a6a" stroke-width="1.05"/>
<line x1="578.29" y1="230.5" x2="578.29" y2="230.1" stroke="#6a6a6a" stroke-width="1.05"/>
<line x1="581.61" y1="230.5" x2="581.61" y2="229.95" stroke="#6a6a6a" stroke-width="1.05"/>
<line x1="584.92" y1="230.5" x2="584.92" y2="229.85" stroke="#6a6a6a" stroke-width="1.05"/>
<line x1="588.24" y1="230.5" x2="588.24" y2="229.75" stroke="#6a6a6a" stroke-width="1.05"/>
<line x1="591.55" y1="230.5" x2="591.55" y2="229.7" stroke="#6a6a6a" stroke-width="1.05"/>
<line x1="594.87" y1="230.5" x2="594.87" y2="229.65" stroke="#6a6a6a" stroke-width="1.05"/>
<line x1="598.18" y1="230.5" x2="598.18" y2="229.6" stroke="#6a6a6a" stroke-width="1.05"/>
<line x1="601.5" y1="230.5" x2="601.5" y2="229.6" stroke="#6a6a6a" stroke-width="1.05"/>
<line x1="604.81" y1="230.5" x2="604.81" y2="229.55" stroke="#6a6a6a" stroke-width="1.05"/>
<line x1="608.12" y1="230.5" x2="608.12" y2="229.5" stroke="#6a6a6a" stroke-width="1.05"/>
<path d="M526.67 301.8L530.47 301.8L528.57 305Z" stroke="#000" stroke-width="0.9" fill="#999"/>
<path d="M529.98 278.1L533.78 278.1L531.88 281.3Z" stroke="#000" stroke-width="0.9" fill="#999"/>
<path d="M533.3 264.1L537.1 264.1L535.2 267.3Z" stroke="#000" stroke-width="0.9" fill="#999"/>
<path d="M536.61 255.7L540.41 255.7L538.51 258.9Z" stroke="#000" stroke-width="0.9" fill="#999"/>
<path d="M539.93 248L543.73 248L541.83 251.2Z" stroke="#000" stroke-width="0.9" fill="#999"/>
<path d="M543.24 243.1L547.04 243.1L545.14 246.3Z" stroke="#000" stroke-width="0.9" fill="#999"/>
<path d="M546.56 239.2L550.36 239.2L548.46 242.4Z" stroke="#000" stroke-width="0.9" fill="#999"/>
<path d="M549.87 236.5L553.67 236.5L551.77 239.7Z" stroke="#000" stroke-width="0.9" fill="#999"/>
<path d="M553.19 234.9L556.99 234.9L555.09 238.1Z" stroke="#000" stroke-width="0.9" fill="#999"/>
<path d="M556.5 233.2L560.3 233.2L558.4 236.4Z" stroke="#000" stroke-width="0.9" fill="#999"/>
<path d="M559.82 232.1L563.62 232.1L561.72 235.3Z" stroke="#000" stroke-width="0.9" fill="#999"/>
<path d="M563.13 231.3L566.93 231.3L565.03 234.5Z" stroke="#000" stroke-width="0.9" fill="#999"/>
<path d="M566.45 230.7L570.25 230.7L568.35 233.9Z" stroke="#000" stroke-width="0.9" fill="#999"/>
<path d="M569.76 230.3L573.56 230.3L571.66 233.5Z" stroke="#000" stroke-width="0.9" fill="#999"/>
<path d="M573.08 230L576.88 230L574.98 233.2Z" stroke="#000" stroke-width="0.9" fill="#999"/>
<path d="M576.39 229.8L580.19 229.8L578.29 233Z" stroke="#000" stroke-width="0.9" fill="#999"/>
<path d="M579.71 229.65L583.5 229.65L581.61 232.85Z" stroke="#000" stroke-width="0.9" fill="#999"/>
<path d="M583.02 229.55L586.82 229.55L584.92 232.75Z" stroke="#000" stroke-width="0.9" fill="#999"/>
<path d="M586.34 229.45L590.13 229.45L588.24 232.65Z" stroke="#000" stroke-width="0.9" fill="#999"/>
<path d="M589.65 229.4L593.45 229.4L591.55 232.6Z" stroke="#000" stroke-width="0.9" fill="#999"/>
<path d="M592.97 229.35L596.76 229.35L594.87 232.55Z" stroke="#000" stroke-width="0.9" fill="#999"/>
<path d="M596.28 229.3L600.08 229.3L598.18 232.5Z" stroke="#000" stroke-width="0.9" fill="#999"/>
<path d="M599.6 229.3L603.39 229.3L601.5 232.5Z" stroke="#000" stroke-width="0.9" fill="#999"/>
<path d="M602.91 229.25L606.71 229.25L604.81 232.45Z" stroke="#000" stroke-width="0.9" fill="#999"/>
<path d="M606.23 229.2L610.02 229.2L608.12 232.4Z" stroke="#000" stroke-width="0.9" fill="#999"/>
<circle cx="537.1" cy="230.6" r="3.0" fill="none" stroke="#111" stroke-width="0.9"/>
<path d="M535.2 228.7L539 232.5M535.2 232.5L539 228.7" stroke="#111" stroke-width="0.9" fill="none"/>
<line x1="608.5" y1="221.5" x2="608.5" y2="245.5" stroke="#111" stroke-width="1"/>
<text x="609.8" y="248.7" font-size="8" textLength="42.7" lengthAdjust="spacingAndGlyphs" class="s">TOmax = 10</text>
<text x="580.6" y="267.3" font-size="8" textLength="66.2" lengthAdjust="spacing" class="s">IDEAL LUNG</text>
<text x="582.8" y="291.9" font-size="8.1" textLength="69.7" lengthAdjust="spacingAndGlyphs" class="s">MR_m_ideal&#160; = 1.47</text>
<rect x="12.7" y="383.5" width="189.8" height="34" fill="none" stroke="#505050" stroke-width="1.35"/>
<text x="107.6" y="395.3" font-size="8.6" text-anchor="middle" textLength="109.5" lengthAdjust="spacingAndGlyphs" class="s">LCI&#160;&#160; (Lung clearance index)</text>
<text x="107.6" y="405.2" font-size="8.6" text-anchor="middle" textLength="78.1" lengthAdjust="spacingAndGlyphs" class="s">=&#160; TO_actual_(1/40)</text>
<text x="107.6" y="415.3" font-size="8.6" text-anchor="middle" textLength="23.5" lengthAdjust="spacingAndGlyphs" class="s">= 6.27</text>
<rect x="12.7" y="423.5" width="189.8" height="34" fill="none" stroke="#505050" stroke-width="1.35"/>
<text x="107.6" y="434.7" font-size="8.6" text-anchor="middle" textLength="60.9" lengthAdjust="spacingAndGlyphs" class="s">MIXING RATIO</text>
<text x="107.6" y="444.8" font-size="8.6" text-anchor="middle" textLength="144.5" lengthAdjust="spacingAndGlyphs" class="s">= NB_actual_(1/40)/ NB_ideal_(1/40)</text>
<text x="107.6" y="454.9" font-size="8.6" text-anchor="middle" textLength="24.9" lengthAdjust="spacingAndGlyphs" class="s">= 1.26</text>
<rect x="222.8" y="383.5" width="225.8" height="34" fill="none" stroke="#505050" stroke-width="1.35"/>
<text x="335.7" y="395.3" font-size="8.6" text-anchor="middle" textLength="74.8" lengthAdjust="spacingAndGlyphs" class="s">BECKLAKE INDEX</text>
<text x="335.7" y="405.2" font-size="8.6" text-anchor="middle" textLength="92.7" lengthAdjust="spacingAndGlyphs" class="s">=&#160; TO_actual_90% / 0.9</text>
<text x="335.7" y="415.3" font-size="8.6" text-anchor="middle" textLength="26.8" lengthAdjust="spacingAndGlyphs" class="s">= 4.17</text>
<rect x="222.8" y="423.5" width="225.8" height="34" fill="none" stroke="#505050" stroke-width="1.35"/>
<text x="335.7" y="434.7" font-size="8.6" text-anchor="middle" textLength="218.9" lengthAdjust="spacingAndGlyphs" class="s">MBAMI(%) (Multiple−breath alveolar mixing inefficiency)</text>
<text x="335.7" y="444.8" font-size="8.6" text-anchor="middle" textLength="182.5" lengthAdjust="spacingAndGlyphs" class="s">=&#160; 100 * (1 − TO_ideal_90% / TO_actual_90%)</text>
<text x="335.7" y="454.9" font-size="8.6" text-anchor="middle" textLength="32.6" lengthAdjust="spacingAndGlyphs" class="s">= 14.8%</text>
<rect x="470.5" y="383.5" width="213.8" height="34" fill="none" stroke="#505050" stroke-width="1.35"/>
<text x="577.4" y="395.3" font-size="8.6" text-anchor="middle" textLength="68.4" lengthAdjust="spacingAndGlyphs" class="s">MOMENT RATIO</text>
<text x="577.4" y="405.2" font-size="8.6" text-anchor="middle" textLength="61.6" lengthAdjust="spacingAndGlyphs" class="s">=&#160; MR_et_actual</text>
<text x="577.4" y="415.3" font-size="8.6" text-anchor="middle" textLength="25.7" lengthAdjust="spacingAndGlyphs" class="s">= 1.83</text>
<rect x="470.5" y="423.5" width="213.8" height="34" fill="none" stroke="#505050" stroke-width="1.35"/>
<text x="577.4" y="434.7" font-size="8.6" text-anchor="middle" textLength="151" lengthAdjust="spacingAndGlyphs" class="s">PCD(%)&#160;&#160; (Pulmonary clearance delay)</text>
<text x="577.4" y="444.8" font-size="8.6" text-anchor="middle" textLength="208.8" lengthAdjust="spacingAndGlyphs" class="s">= 100 * (MR_m_actual − MR_m_ideal) / MR_m_ideal)</text>
<text x="577.4" y="454.9" font-size="8.6" text-anchor="middle" textLength="33.8" lengthAdjust="spacingAndGlyphs" class="s">= 20.9%</text>
</svg>
</body></html>
